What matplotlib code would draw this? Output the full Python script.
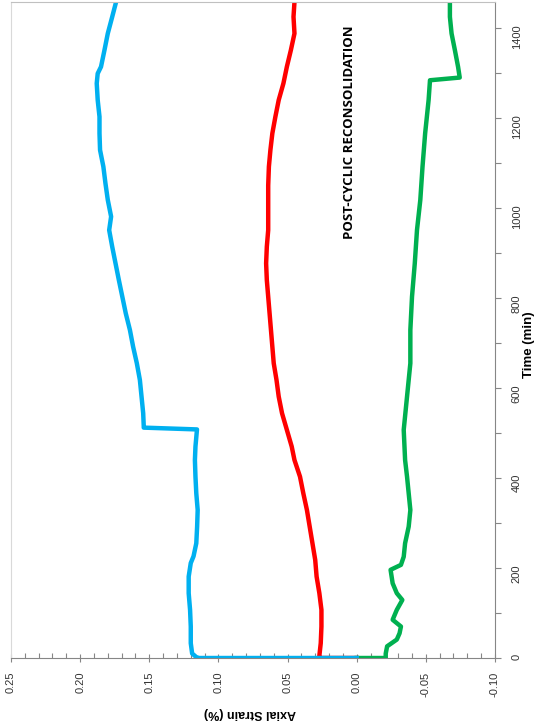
import matplotlib
matplotlib.use("Agg")
import matplotlib.pyplot as plt
from matplotlib.ticker import MultipleLocator, FormatStrFormatter

# time (min) and axial strain (%)
blue_t = [0, 0, 2, 10, 33, 70, 107, 144, 181, 211, 226, 255, 292, 329, 366, 403, 440, 470, 508,
          512, 515, 544, 581, 618, 655, 692, 729, 766, 803, 840, 877, 914, 951, 981, 1018, 1055,
          1092, 1129, 1166, 1203, 1240, 1277, 1299, 1314, 1351, 1388, 1425, 1458]
blue_s = [0.0, 0.114, 0.116, 0.119, 0.120, 0.120, 0.1205, 0.1215, 0.1215, 0.120, 0.118, 0.116,
          0.1154, 0.115, 0.116, 0.1166, 0.117, 0.1166, 0.1155,
          0.154, 0.154, 0.1544, 0.1556, 0.1568, 0.159, 0.1617, 0.164, 0.167, 0.1695, 0.172, 0.1744,
          0.1768, 0.179, 0.1776, 0.180, 0.1817, 0.1832, 0.1856, 0.186, 0.186, 0.1873, 0.188, 0.1873,
          0.1849, 0.1824, 0.180, 0.1768, 0.174]

red_t = [0, 0, 5, 33, 70, 107, 144, 181, 218, 255, 292, 329, 366, 403, 440, 470, 507, 544, 581,
         618, 655, 692, 729, 766, 803, 840, 877, 914, 951, 1000, 1050, 1092, 1129, 1166, 1203,
         1240, 1277, 1314, 1351, 1388, 1425, 1458]
red_s = [0.0, 0.027, 0.027, 0.026, 0.0255, 0.0255, 0.027, 0.029, 0.030, 0.032, 0.034, 0.036,
         0.0386, 0.041, 0.045, 0.047, 0.0505, 0.054, 0.0564, 0.058, 0.060, 0.061, 0.062, 0.063,
         0.064, 0.065, 0.0655, 0.065, 0.064, 0.064, 0.064, 0.0635, 0.0624, 0.061, 0.0588, 0.0564,
         0.053, 0.0505, 0.0476, 0.045, 0.0457, 0.045]

green_t = [0, 0, 10, 26, 41, 55, 70, 85, 107, 129, 144, 166, 196, 207, 225, 255, 292, 329, 366,
           403, 440, 507, 581, 655, 729, 803, 877, 951, 1018, 1092, 1166, 1240, 1284, 1290, 1314,
           1351, 1388, 1425, 1458]
green_s = [0.0, -0.021, -0.021, -0.022, -0.029, -0.031, -0.032, -0.026, -0.029, -0.033, -0.029,
           -0.026, -0.0245, -0.032, -0.034, -0.035, -0.0376, -0.0388, -0.0376, -0.0364, -0.035,
           -0.034, -0.0364, -0.0388, -0.0388, -0.040, -0.042, -0.0436, -0.046, -0.0476, -0.0495,
           -0.052, -0.053, -0.0745, -0.0733, -0.071, -0.0686, -0.0674, -0.0674]

fig = plt.figure(figsize=(5.47, 7.27), dpi=100)
ax = fig.add_axes([0.0201, 0.0949, 0.8848, 0.9024])

ax.plot(red_s, red_t, color='#FF0000', lw=3.2, solid_joinstyle='round')
ax.plot(green_s, green_t, color='#00B050', lw=3.2, solid_joinstyle='round')
ax.plot(blue_s, blue_t, color='#00B0F0', lw=3.2, solid_joinstyle='round')

ax.set_xlim(0.25, -0.10)
ax.set_ylim(0, 1458)
ax.yaxis.tick_right()

ax.xaxis.set_major_locator(MultipleLocator(0.05))
ax.xaxis.set_minor_locator(MultipleLocator(0.01))
ax.xaxis.set_major_formatter(FormatStrFormatter('%.2f'))
ax.yaxis.set_major_locator(MultipleLocator(200))
ax.yaxis.set_minor_locator(MultipleLocator(100))

tick_font = ['Liberation Sans Narrow', 'Liberation Sans']
ax.tick_params(axis='x', which='major', direction='inout', length=6, width=0.8, color='#868686',
               labelsize=8, labelcolor='#333333', labelrotation=90, pad=7)
ax.tick_params(axis='x', which='minor', direction='in', length=3.5, width=0.8, color='#868686')
ax.tick_params(axis='y', which='both', direction='out', length=4, width=0.8, color='#868686',
               labelsize=8, labelcolor='#333333', labelrotation=90, pad=8)
for lab in ax.get_xticklabels() + ax.get_yticklabels():
    lab.set_fontfamily(tick_font)

for side in ['bottom', 'right']:
    ax.spines[side].set_color('#868686')
ax.spines['top'].set_color('#c0c0c0')
ax.spines['left'].set_color('#d9d9d9')

ax.text(0.494, -0.084, 'Axial Strain (%)', transform=ax.transAxes, rotation=180,
        ha='center', va='center', fontsize=9, fontweight='bold', family='Liberation Sans')
ax.text(1.07, 0.477, 'Time (min)', transform=ax.transAxes, rotation=90,
        ha='center', va='center', fontsize=9.5, fontweight='bold', family='Liberation Sans')
ax.text(0.005, 1168, 'POST-CYCLIC RECONSOLIDATION', rotation=90, ha='center', va='center',
        fontsize=9.5, fontweight='bold', family='Open Sans')

fig.savefig('out.png', dpi=100)
